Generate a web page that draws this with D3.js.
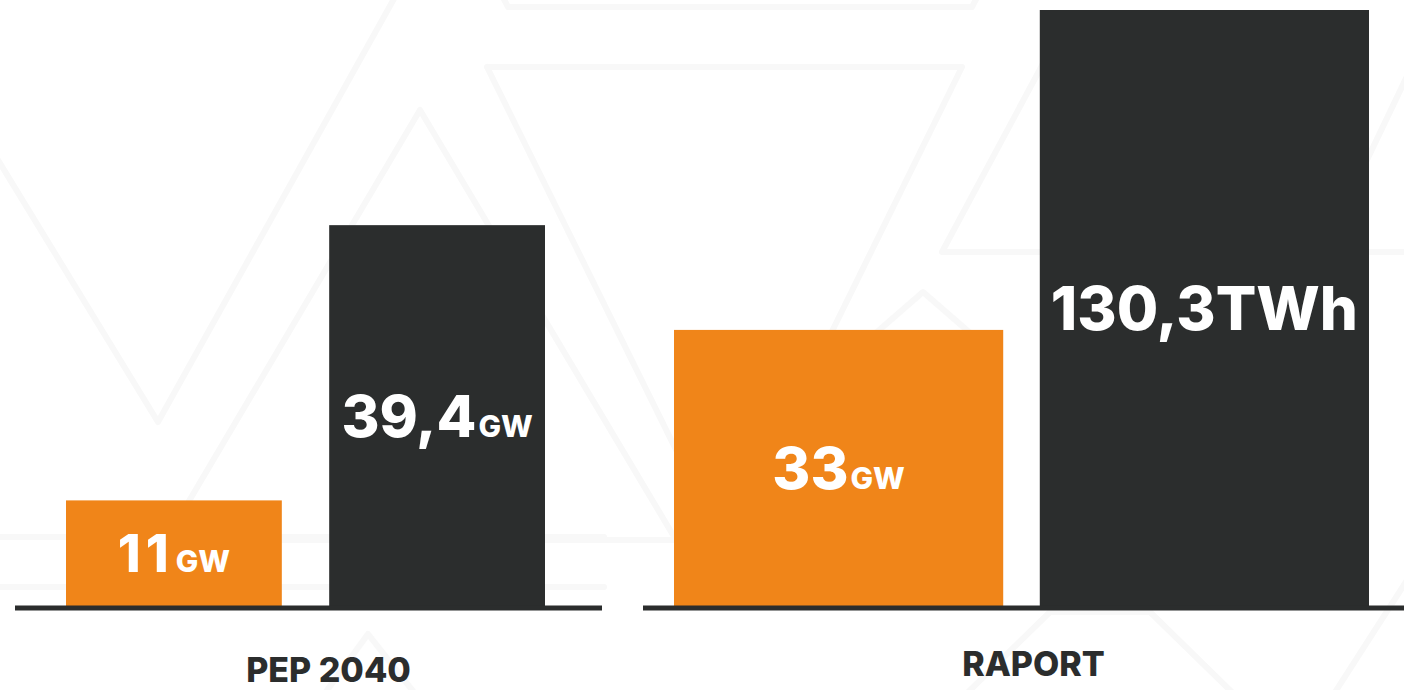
<!DOCTYPE html>
<html>
<head>
<meta charset="utf-8">
<script src="https://cdn.jsdelivr.net/npm/d3@7"></script>
<style>
  html, body { margin: 0; padding: 0; background: #fff; }
  svg { display: block; }
  .val { font-family: Inter, Lato, 'Open Sans', sans-serif; font-weight: 800; fill: #fff; }
  .cat { font-family: Inter, Lato, 'Open Sans', sans-serif; font-weight: 800; fill: #2b2d2d; }
</style>
</head>
<body>
<div class="chart"></div>
<script>
// data
var categories = ['PEP 2040', 'RAPORT']
var seriesNames = ['a', 'b']
var values = [[11, 39.4], [33, 130.3]]
var valueText = [['11', '39,4'], ['33', '130,3']]
var units = [['GW', 'GW'], ['GW', 'TWh']]

// each panel has its own value scale per unit (bars are not drawn to one scale)
var unitMax = [{ GW: 61.6 }, { GW: 71.1, TWh: 130.3 }]

var width = 1404
var height = 690
var base = 607
var yTop = 10
var orange = '#f08519'
var dark = '#2b2d2d'

var panels = [
  { bars: [66, 545], line: [15, 602], labelDx: 20, labelY: 682 },
  { bars: [674, 1369], line: [643, 1404], labelDx: 10, labelY: 676 }
]
var padInner = [0.18, 0.1]

var svg = d3.select('.chart')
  .append('svg')
  .attr('width', width)
  .attr('height', height)

// faint logo pattern in the background
var decor = [
  [[498, -12], [508, 7], [972, 7], [982, -12]],
  [[487, 67], [962, 67], [725, 549], [487, 67]],
  [[-10, 147], [158, 422], [400, -12]],
  [[420, 110], [166, 540], [676, 540], [420, 110]],
  [[1046, 58], [942, 252], [1420, 252]],
  [[0, 537], [604, 537]],
  [[0, 587], [604, 587]],
  [[320, 700], [368, 634], [420, 700]],
  [[862, 345], [923, 292], [984, 345]],
  [[1410, 70], [1300, 300]],
  [[960, 700], [1050, 612], [1150, 612], [1240, 700]],
  [[1330, 700], [1420, 560]]
]
var line = d3.line()
svg.append('g')
  .selectAll('path')
  .data(decor)
  .enter()
  .append('path')
  .attr('d', line)
  .attr('fill', 'none')
  .attr('stroke', '#f8f8f8')
  .attr('stroke-width', 6)
  .attr('stroke-linejoin', 'round')
  .attr('stroke-linecap', 'round')

categories.forEach(function(cat, i) {
  var p = panels[i]
  var x = d3.scaleBand()
    .domain(seriesNames)
    .range(p.bars)
    .paddingInner(padInner[i])
    .paddingOuter(0)

  var y = {}
  Object.keys(unitMax[i]).forEach(function(u) {
    y[u] = d3.scaleLinear().domain([0, unitMax[i][u]]).range([base, yTop])
  })

  var rows = values[i].map(function(v, j) {
    return { key: seriesNames[j], value: v, text: valueText[i][j], unit: units[i][j], j: j }
  })

  var g = svg.append('g')

  g.selectAll('rect')
    .data(rows)
    .enter()
    .append('rect')
    .attr('x', function(d) { return x(d.key) })
    .attr('width', x.bandwidth())
    .attr('y', function(d) { return y[d.unit](d.value) })
    .attr('height', function(d) { return base - y[d.unit](d.value) })
    .attr('fill', function(d) { return d.j === 0 ? orange : dark })

  var bigSize = function(d) {
    if (d.unit === 'TWh') return 60
    return d.value > 30 ? 58 : 52
  }

  var labels = g.selectAll('text.val')
    .data(rows)
    .enter()
    .append('text')
    .attr('class', 'val')
    .attr('text-anchor', 'middle')
    .attr('x', function(d) { return x(d.key) + x.bandwidth() / 2 })
    .attr('y', function(d) {
      return (y[d.unit](d.value) + base) / 2 + bigSize(d) * 0.36
    })

  labels.append('tspan')
    .attr('font-size', bigSize)
    .attr('letter-spacing', function(d) { return d.value < 20 ? 5 : 0 })
    .text(function(d) { return d.text })
  labels.append('tspan')
    .attr('font-size', function(d) { return d.unit === 'TWh' ? 60 : 30 })
    .attr('dx', function(d) { return d.unit === 'TWh' ? 0 : 2 })
    .text(function(d) { return d.unit })

  g.append('line')
    .attr('x1', p.line[0])
    .attr('x2', p.line[1])
    .attr('y1', base + 1)
    .attr('y2', base + 1)
    .attr('stroke', dark)
    .attr('stroke-width', 5)

  g.append('text')
    .attr('class', 'cat')
    .attr('text-anchor', 'middle')
    .attr('font-size', 34)
    .attr('x', (p.line[0] + p.line[1]) / 2 + p.labelDx)
    .attr('y', p.labelY)
    .text(cat)
})
</script>
</body>
</html>
